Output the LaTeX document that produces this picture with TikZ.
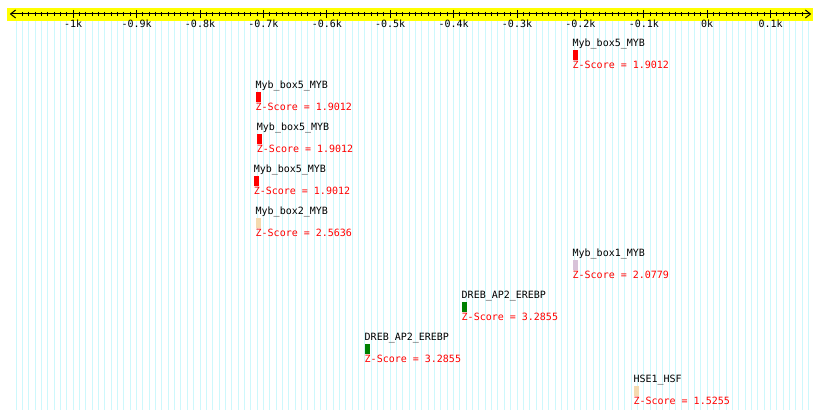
\documentclass[tikz,border=0pt]{standalone}
\usepackage{fontspec}
\setmonofont{DejaVu Sans Mono}
\usetikzlibrary{arrows.meta}

\definecolor{gridcyan}{RGB}{205,248,252}
\definecolor{rulerband}{RGB}{255,255,0}
\definecolor{boxwheat}{RGB}{245,218,175}
\definecolor{boxthistle}{RGB}{216,194,216}
\definecolor{boxgreen}{RGB}{0,128,0}

\begin{document}
\begin{tikzpicture}[x=0.634pt, y=-1pt, line width=1pt,
  lbl/.style={font=\ttfamily\fontsize{10}{10}\selectfont, inner sep=0pt, anchor=base west},
  score/.style={lbl, text=red},
  site/.style={draw=none, inner sep=0pt, minimum width=5pt, minimum height=9.5pt, anchor=north west}]
  %================= Parameters (edit these) =================
  \def\xmin{-1100}   % left end of the ruler (bp)
  \def\xmax{164}     % right end of the ruler (bp)
  \def\yaxis{14}     % ruler line
  \def\ybot{410}     % bottom of the grid lines
  \def\dy{42}        % row spacing
  \useasboundingbox (-1115.5,0) rectangle (177.9,419);

  %================= Background grid (every 10 bp) =================
  \foreach \i in {-109,...,16}{
    \draw[gridcyan] (\i*10,21) -- (\i*10,\ybot);
  }

  %================= Ruler =================
  \fill[rulerband] (-1104,8) rectangle (167.2,21);
  \draw[{Straight Barb[length=5pt,width=8pt]}-{Straight Barb[length=5pt,width=8pt]}]
    (\xmin,\yaxis) -- (\xmax,\yaxis);
  % minor ticks
  \foreach \i in {-108,...,15}{
    \draw (\i*10,\yaxis-2) -- (\i*10,\yaxis+2);
  }
  % major ticks with labels
  \foreach \v/\t in {-1000/-1k,-900/-0.9k,-800/-0.8k,-700/-0.7k,-600/-0.6k,-500/-0.5k,
                     -400/-0.4k,-300/-0.3k,-200/-0.2k,-100/-0.1k,0/0k,100/0.1k}{
    \draw (\v,\yaxis-4) -- (\v,\yaxis+4);
    \node[lbl, anchor=base] (tick\v) at (\v,28) {\t};
  }

  %================= Binding sites =================
  \foreach \xs/\r/\nm/\col/\z [count=\k] in {
      -213/0/Myb\_box5\_MYB/red/1.9012,
      -713/1/Myb\_box5\_MYB/red/1.9012,
      -711/2/Myb\_box5\_MYB/red/1.9012,
      -716/3/Myb\_box5\_MYB/red/1.9012,
      -713/4/Myb\_box2\_MYB/boxwheat/2.5636,
      -213/5/Myb\_box1\_MYB/boxthistle/2.0779,
      -388/6/DREB\_AP2\_EREBP/boxgreen/3.2855,
      -541/7/DREB\_AP2\_EREBP/boxgreen/3.2855,
      -117/8/HSE1\_HSF/boxwheat/1.5255}{
    \pgfmathsetmacro{\yr}{\dy*\r}
    \node[lbl] (name\k) at (\xs,47+\yr) {\nm};
    \node[site, fill=\col] (box\k) at (\xs,50+\yr) {};
    \node[score] (score\k) at (\xs,69+\yr) {Z-Score = \z};
  }

\end{tikzpicture}
\end{document}
